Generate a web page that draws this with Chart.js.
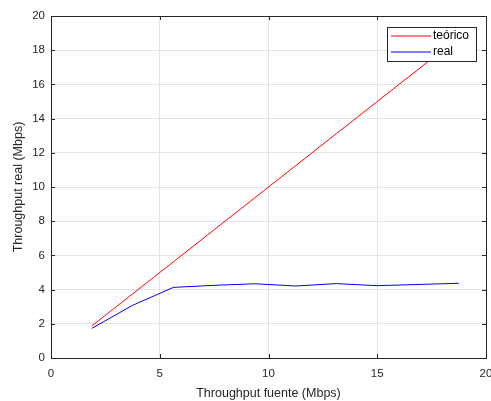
<!DOCTYPE html>
<html lang="es">
<head>
  <meta charset="UTF-8">
  <title>Throughput</title>
  <script src="https://cdn.jsdelivr.net/npm/chart.js"></script>
  <style>
    body { margin: 0; background: #fff; }
    #wrap { width: 491px; height: 401px; }
  </style>
</head>
<body>
  <div id="wrap"><canvas id="chart" width="491" height="401"></canvas></div>
  <script>
    const fuente = [1.875, 3.75, 5.625, 7.5, 9.375, 11.25, 13.125, 15, 18.75];
    const teorico = [1.875, 3.75, 5.625, 7.5, 9.375, 11.25, 13.125, 15, 18.75];
    const real = [1.73, 3.08, 4.13, 4.25, 4.34, 4.21, 4.35, 4.23, 4.37];
    const seriesNames = ['teórico', 'real'];
    const seriesColors = ['rgb(255,0,0)', 'rgb(0,0,255)'];
    const xTicks = [0, 5, 10, 15, 20];
    const yTicks = [0, 2, 4, 6, 8, 10, 12, 14, 16, 18, 20];

    const axisColor = '#262626';
    const fontFamily = 'Helvetica, "Liberation Sans", Arial, sans-serif';

    // box, inner ticks and boxed legend, matlab style
    const matlabBox = {
      id: 'matlabBox',
      afterDraw(chart) {
        const { ctx, chartArea: a, scales } = chart;
        ctx.save();
        ctx.strokeStyle = axisColor;
        ctx.lineWidth = 1;
        ctx.beginPath();
        ctx.moveTo(a.left, a.top + 0.5);
        ctx.lineTo(a.right + 0.5, a.top + 0.5);
        ctx.lineTo(a.right + 0.5, a.bottom);
        ctx.stroke();

        const tl = 4;
        ctx.beginPath();
        xTicks.forEach(v => {
          const x = Math.round(scales.x.getPixelForValue(v)) + 0.5;
          ctx.moveTo(x, a.bottom); ctx.lineTo(x, a.bottom - tl);
          ctx.moveTo(x, a.top); ctx.lineTo(x, a.top + tl);
        });
        yTicks.forEach(v => {
          const y = Math.round(scales.y.getPixelForValue(v)) + 0.5;
          ctx.moveTo(a.left, y); ctx.lineTo(a.left + tl, y);
          ctx.moveTo(a.right, y); ctx.lineTo(a.right - tl, y);
        });
        ctx.stroke();

        // legend
        const lx = 387, ly = 27, lw = 89, lh = 34;
        ctx.fillStyle = '#fff';
        ctx.fillRect(lx, ly, lw, lh);
        ctx.strokeStyle = axisColor;
        ctx.strokeRect(lx + 0.5, ly + 0.5, lw, lh);
        ctx.font = '12px ' + fontFamily;
        ctx.textBaseline = 'middle';
        seriesNames.forEach((name, i) => {
          const y = ly + 9 + i * 16;
          ctx.strokeStyle = seriesColors[i];
          ctx.lineWidth = 1.2;
          ctx.beginPath();
          ctx.moveTo(lx + 4, y);
          ctx.lineTo(lx + 44, y);
          ctx.stroke();
          ctx.fillStyle = '#000';
          ctx.fillText(name, lx + 46, y);
        });
        ctx.restore();
      }
    };

    const toPoints = ys => fuente.map((x, i) => ({ x: x, y: ys[i] }));

    new Chart(document.getElementById('chart'), {
      type: 'line',
      data: {
        datasets: [
          { label: seriesNames[0], data: toPoints(teorico), borderColor: seriesColors[0], borderWidth: 1, pointRadius: 0, tension: 0 },
          { label: seriesNames[1], data: toPoints(real), borderColor: seriesColors[1], borderWidth: 1, pointRadius: 0, tension: 0 }
        ]
      },
      options: {
        responsive: false,
        animation: false,
        layout: { padding: { top: 16, right: 5, left: 11, bottom: 0 } },
        plugins: { legend: { display: false }, tooltip: { enabled: false } },
        scales: {
          x: {
            type: 'linear', min: 0, max: 20,
            afterBuildTicks: s => { s.ticks = xTicks.map(v => ({ value: v })); },
            afterFit: s => { s.height = 43; s.paddingRight = 0; s.paddingLeft = 0; },
            grid: { color: '#e3e3e3', drawTicks: false },
            border: { display: true, color: axisColor },
            ticks: { color: axisColor, padding: 9, maxRotation: 0, font: { size: 11.5, family: fontFamily } },
            title: { display: true, text: 'Throughput fuente (Mbps)', color: axisColor, padding: { top: 3, bottom: 0 }, font: { size: 12.5, family: fontFamily } }
          },
          y: {
            type: 'linear', min: 0, max: 20,
            afterBuildTicks: s => { s.ticks = yTicks.map(v => ({ value: v })); },
            afterFit: s => { s.width = 40; s.paddingTop = 0; s.paddingBottom = 0; },
            grid: { color: '#e3e3e3', drawTicks: false },
            border: { display: true, color: axisColor },
            ticks: { color: axisColor, padding: 6, font: { size: 11.5, family: fontFamily } },
            title: { display: true, text: 'Throughput real (Mbps)', color: axisColor, padding: { top: 0, bottom: 0 }, font: { size: 12.5, family: fontFamily } }
          }
        }
      },
      plugins: [matlabBox]
    });
  </script>
</body>
</html>
